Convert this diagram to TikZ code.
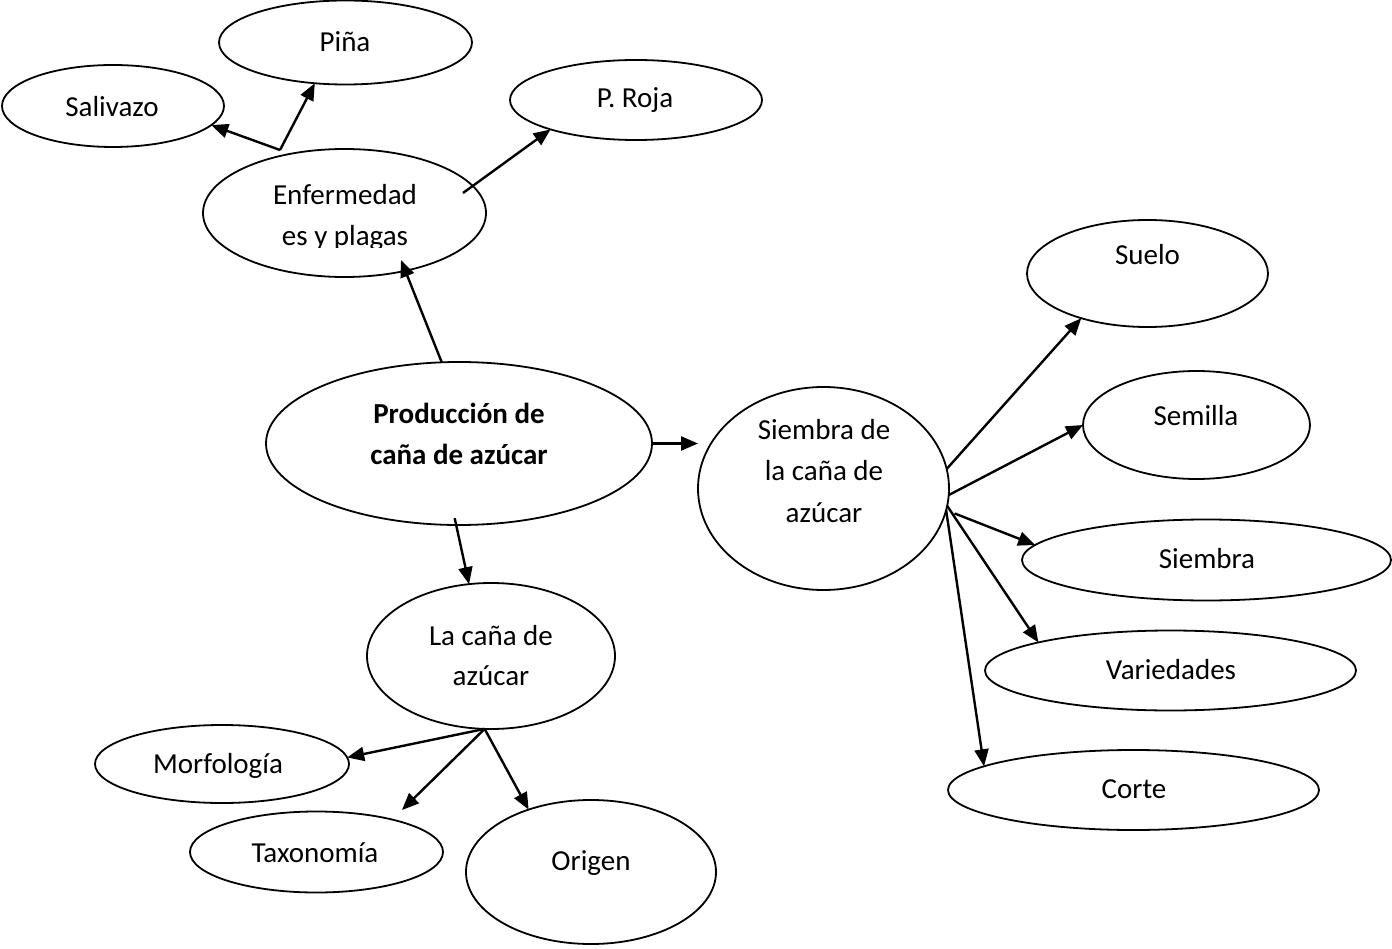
\documentclass[tikz,border=0pt]{standalone}
\usepackage{fontspec}
\setmainfont{Carlito}
\usetikzlibrary{shapes.geometric,arrows.meta,calc}
\tikzset{
  bubble/.style={ellipse, draw, line width=1.8pt, inner sep=0pt, outer sep=0pt},
  lbl/.style={anchor=base, inner sep=0pt, font=\fontsize{29}{41}\selectfont},
  link/.style={line width=2.4pt, -{Triangle[length=17pt,width=14pt]}},
}
\begin{document}
\begin{tikzpicture}[x=1pt,y=-1pt]
\fill[white] (0,0) rectangle (1392,949);
\useasboundingbox (0,0) rectangle (1392,949);

% ellipses
\node[bubble, minimum width=253pt, minimum height=84pt]  (pina)    at (345.5,42.5) {};
\node[bubble, minimum width=222pt, minimum height=82pt]  (saliv)   at (113,106) {};
\node[bubble, minimum width=252pt, minimum height=80pt]  (roja)    at (636,100) {};
\node[bubble, minimum width=283pt, minimum height=128pt] (enf)     at (344.5,213) {};
\node[bubble, minimum width=241pt, minimum height=107pt] (suelo)   at (1147.5,273.5) {};
\node[bubble, minimum width=227pt, minimum height=108pt] (semilla) at (1196.5,425) {};
\node[bubble, minimum width=386pt, minimum height=163pt] (prod)    at (459,443.5) {};
\node[bubble, minimum width=251pt, minimum height=203pt] (cana)    at (823.5,488.5) {};
\node[bubble, minimum width=369pt, minimum height=81pt]  (siembra) at (1206.5,560) {};
\node[bubble, minimum width=371pt, minimum height=80pt]  (var)     at (1170.5,670.5) {};
\node[bubble, minimum width=371pt, minimum height=80pt]  (corte)   at (1133.5,790) {};
\node[bubble, minimum width=248pt, minimum height=146pt] (lacana)  at (491,656) {};
\node[bubble, minimum width=254pt, minimum height=78pt]  (morf)    at (222,764) {};
\node[bubble, minimum width=253pt, minimum height=81pt]  (taxo)    at (316.5,852) {};
\node[bubble, minimum width=250pt, minimum height=144pt] (orig)    at (591,872) {};

% labels
\node[lbl] (t-pina)  at (345,52)  {Piña};
\node[lbl] (t-saliv) at (112,117) {Salivazo};
\node[lbl] (t-roja)  at (635,108) {P. Roja};
\node[lbl] (t-enf1)  at (345,205) {Enfermedad};
\begin{scope}
  \clip (150,140) rectangle (500,248);
  \node[lbl] (t-enf2) at (345,246) {es y plagas};
\end{scope}
\node[lbl] (t-suelo)   at (1147.5,265) {Suelo};
\node[lbl] (t-semilla) at (1196,425)   {Semilla};
\node[lbl, font=\fontsize{29}{41}\selectfont\bfseries] (t-prod1) at (459,423) {Producción de};
\node[lbl, font=\fontsize{29}{41}\selectfont\bfseries] (t-prod2) at (459,464) {caña de azúcar};
\node[lbl] (t-cana1) at (824,439) {Siembra de};
\node[lbl] (t-cana2) at (824,480) {la caña de};
\node[lbl] (t-cana3) at (824,522) {azúcar};
\node[lbl] (t-siembra) at (1207,568) {Siembra};
\node[lbl] (t-var)     at (1171,679) {Variedades};
\node[lbl] (t-corte)   at (1134,798) {Corte};
\node[lbl] (t-lacana1) at (491,645) {La caña de};
\node[lbl] (t-lacana2) at (491,685) {azúcar};
\node[lbl] (t-morf)    at (218,773) {Morfología};
\node[lbl] (t-taxo)    at (315,862) {Taxonomía};
\node[lbl] (t-orig)    at (591,870) {Origen};

% free connector ends
\coordinate (enfhub)   at (280,150);
\coordinate (rojatail) at (463,193);
\coordinate (enftip)   at (401,260);
\coordinate (taxotip)  at (402,810);

% connectors
\draw[link] (enfhub) -- (saliv.-11);
\draw[link] (enfhub) -- (pina.233);
\draw[link] (rojatail) -- (roja.199);
\draw[link] (prod.102) -- (enftip);
\draw[link] (prod.0) -- (prod.0 -| cana.west);
\draw[link, shorten <=-7pt] (prod.268) -- (lacana.107);

\draw[link] (cana.9) -- (suelo.214);
\draw[link] (cana.-3) -- (semilla.180);
\draw[link, shorten <=9pt] (cana.-10) -- (siembra.175);
\draw[link] (cana.-8) -- (var.168);
\draw[link] (cana.-10) -- (corte.171);

\draw[link] (lacana.265) -- (morf.3);
\draw[link] (lacana.265) -- (taxotip);
\draw[link] (lacana.265) -- (orig.135);
\end{tikzpicture}
\end{document}
